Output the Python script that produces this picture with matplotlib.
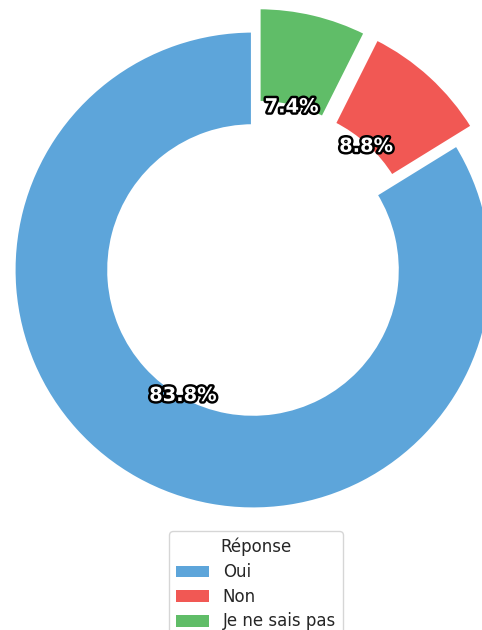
import matplotlib.pyplot as plt
import matplotlib.patheffects as pe
from matplotlib.patches import Patch

labels = ["Oui", "Non", "Je ne sais pas"]
values = [83.8, 8.8, 7.4]
colors = ["#5DA5DA", "#F15854", "#60BD68"]
explode = [0, 0.1, 0.1]


def main():
    fig = plt.figure(figsize=(4.82, 6.30), dpi=100)
    ax = fig.add_axes([0, 0, 1, 1])
    r = 239.5
    cx, cy = 253, 270

    wedges, texts, autotexts = ax.pie(
        values, colors=colors, explode=explode, startangle=90,
        autopct="%1.1f%%", pctdistance=0.6,
        wedgeprops=dict(width=0.4, edgecolor="white", linewidth=3),
    )
    for t in autotexts:
        t.set_color("white")
        t.set_fontsize(14)
        t.set_fontweight("bold")
        t.set_path_effects([pe.withStroke(linewidth=3.5, foreground="black")])

    ax.set_xlim(-cx / r, (482 - cx) / r)
    ax.set_ylim(-(630 - cy) / r, cy / r)
    ax.set_aspect("equal")
    ax.axis("off")

    handles = [Patch(facecolor=c, edgecolor="none") for c in colors]
    leg = fig.legend(
        handles, labels, title="Réponse", loc="upper center",
        bbox_to_anchor=(256 / 482, 1 - 523 / 630), fontsize=12, title_fontsize=12,
        labelcolor="#262626", frameon=True, labelspacing=0.4,
    )
    leg.get_title().set_color("#262626")
    fig.savefig("out.png", dpi=100)


if __name__ == "__main__":
    main()
